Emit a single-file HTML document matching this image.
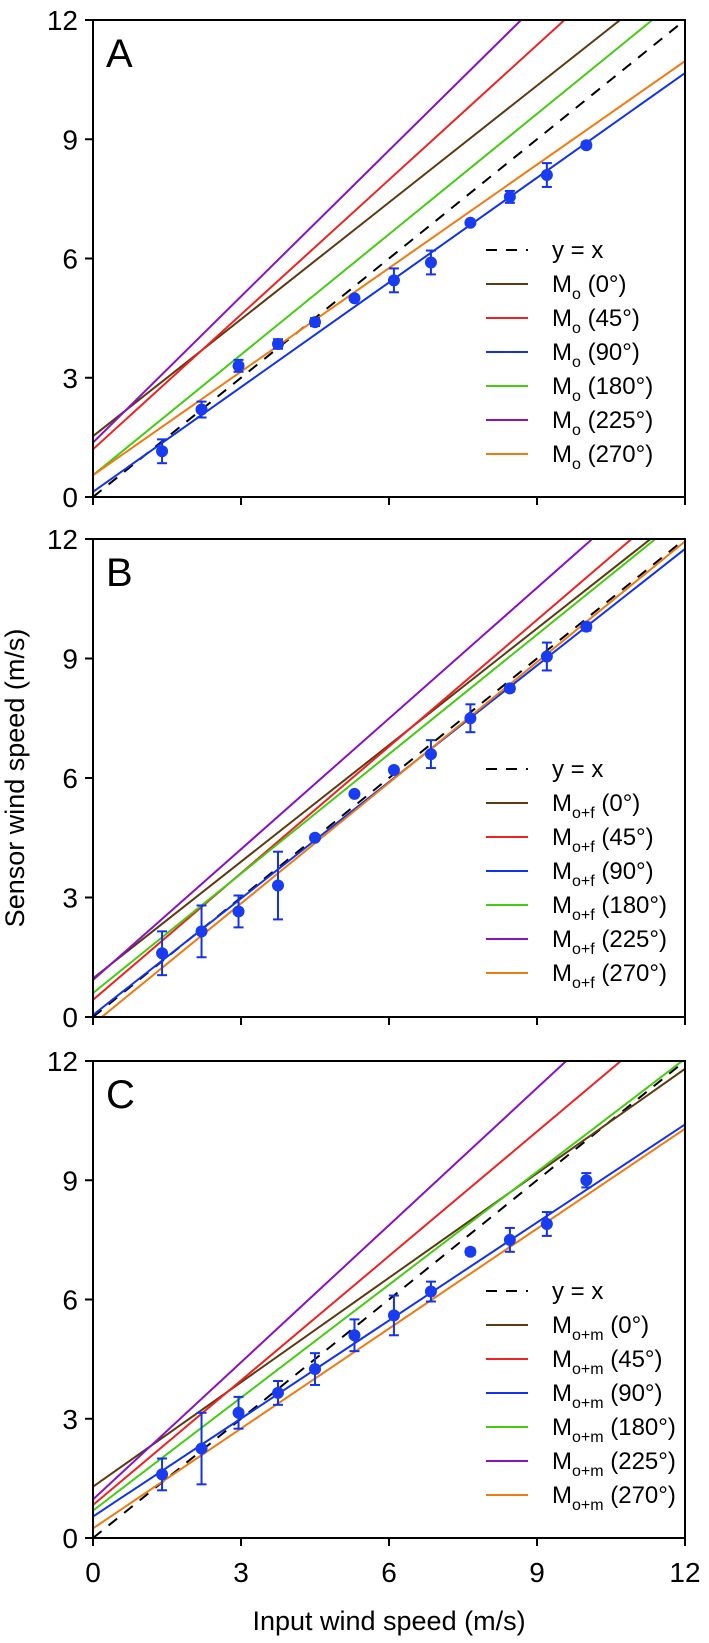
<!DOCTYPE html>
<html><head><meta charset="utf-8">
<style>
html,body{margin:0;padding:0;background:#fff;}
svg{display:block;font-family:"Liberation Sans",Arial,sans-serif;}
</style></head>
<body>
<svg id="chart" width="709" height="1643" viewBox="0 0 709 1643">
<text x="24" y="778" font-size="27" text-anchor="middle" transform="rotate(-90 24 778)">Sensor wind speed (m/s)</text>
<text x="389" y="1630" font-size="27" text-anchor="middle">Input wind speed (m/s)</text>
</svg>
<script>
const panelLabels = ['A','B','C'];
const subscripts = ['o','o+f','o+m'];
const angles = ['0°','45°','90°','180°','225°','270°'];
const seriesColors = ['#5c3a12','#ee2222','#1133ee','#44cc11','#8811c4','#f07a12'];
const intercepts = [
  [1.53,1.20,0.13,0.55,1.37,0.55],
  [0.97,0.43,0.05,0.60,0.93,-0.18],
  [1.29,0.83,0.54,0.69,0.97,0.24]
];
const slopes = [
  [0.98,1.13,0.878,1.01,1.225,0.868],
  [0.976,1.06,0.975,1.0,1.094,1.01],
  [0.876,1.044,0.822,0.947,1.15,0.838]
];
const inputX = [1.4,2.2,2.95,3.75,4.5,5.3,6.1,6.85,7.65,8.45,9.2,10.0];
const meansA = [1.15,2.2,3.3,3.85,4.4,5.0,5.45,5.9,6.9,7.55,8.1,8.85];
const errsA = [0.3,0.2,0.15,0.12,0.1,0.05,0.3,0.3,0.05,0.15,0.3,0.08];
const meansB = [1.6,2.15,2.65,3.3,4.5,5.6,6.2,6.6,7.5,8.25,9.05,9.8];
const errsB = [0.55,0.65,0.4,0.85,0.05,0.05,0.05,0.35,0.35,0.08,0.35,0.1];
const meansC = [1.6,2.25,3.15,3.65,4.25,5.1,5.6,6.2,7.2,7.5,7.9,9.0];
const errsC = [0.4,0.9,0.4,0.3,0.4,0.4,0.5,0.25,0.08,0.3,0.3,0.18];
const ticks = [0,3,6,9,12];

const means = [meansA, meansB, meansC];
const errs = [errsA, errsB, errsC];
const svg = document.getElementById('chart');
const NS = 'http://www.w3.org/2000/svg';
const X0 = 93, X1 = 685;
const tops = [20, 539, 1061], bots = [497, 1017, 1538];
function mk(tag, attrs, parent){
  const e = document.createElementNS(NS, tag);
  for (const k in attrs) e.setAttribute(k, attrs[k]);
  (parent || svg).appendChild(e);
  return e;
}
const xs = v => X0 + (X1 - X0) * v / 12;

for (let p = 0; p < 3; p++) {
  const T = tops[p], B = bots[p];
  const ys = v => B - (B - T) * v / 12;
  const g = mk('g', {});
  
  
  const cid = 'clip' + p;
  const cp = mk('clipPath', {id: cid}, g);
  mk('rect', {x: X0, y: T, width: X1 - X0, height: B - T}, cp);
  const plot = mk('g', {'clip-path': 'url(#' + cid + ')'}, g);
  const idl = mk('line', {x1: xs(0), y1: ys(0), x2: xs(12), y2: ys(12), stroke: '#000', 'stroke-width': 2, 'stroke-dasharray': '11,9'}, plot);
  
  
  for (let s = 0; s < 6; s++) {
    const a = intercepts[p][s], b = slopes[p][s];
    const ln = mk('line', {x1: xs(0), y1: ys(a), x2: xs(12), y2: ys(a + b * 12), stroke: seriesColors[s], 'stroke-width': 2}, plot);
    
    
  }
  for (let i = 0; i < inputX.length; i++) {
    const cx = xs(inputX[i]), m = means[p][i], e = errs[p][i];
    const pg = mk('g', {stroke: '#1133ee', 'stroke-width': 2}, g);
    
    
    mk('line', {x1: cx, y1: ys(m - e), x2: cx, y2: ys(m + e)}, pg);
    mk('line', {x1: cx - 5, y1: ys(m - e), x2: cx + 5, y2: ys(m - e)}, pg);
    mk('line', {x1: cx - 5, y1: ys(m + e), x2: cx + 5, y2: ys(m + e)}, pg);
    mk('circle', {cx: cx, cy: ys(m), r: 6, fill: '#1a3cf0', stroke: 'none'}, pg);
  }
  const fr = mk('rect', {x: X0, y: T, width: X1 - X0, height: B - T, fill: 'none', stroke: '#000', 'stroke-width': 2}, g);
  
  
  for (const t of ticks) {
    mk('line', {x1: X0 - 8, y1: ys(t), x2: X0, y2: ys(t), stroke: '#000', 'stroke-width': 2}, g);
    const yl = mk('text', {x: 78, y: ys(t) + 10, 'font-size': 28, 'text-anchor': 'end'}, g);
    yl.textContent = t;
    
    
    mk('line', {x1: xs(t), y1: B, x2: xs(t), y2: B + 8, stroke: '#000', 'stroke-width': 2}, g);
    if (p === 2) {
      const xl = mk('text', {x: xs(t), y: B + 44, 'font-size': 28, 'text-anchor': 'middle'}, g);
      xl.textContent = t;
      
      
    }
  }
  const pl = mk('text', {x: 106, y: T + 47, 'font-size': 40}, g);
  pl.textContent = panelLabels[p];
  
  
  const lg = mk('g', {}, g);
  
  
  const ly0 = T + 230, dy = 34;
  const e0 = mk('g', {}, lg);
  
  
  mk('line', {x1: 486, y1: ly0, x2: 528, y2: ly0, stroke: '#000', 'stroke-width': 2, 'stroke-dasharray': '11,9'}, e0);
  const t0 = mk('text', {x: 552, y: ly0 + 8, 'font-size': 24}, e0);
  t0.textContent = 'y = x';
  for (let s = 0; s < 6; s++) {
    const y = ly0 + dy * (s + 1);
    const en = mk('g', {}, lg);
    
    
    mk('line', {x1: 486, y1: y, x2: 528, y2: y, stroke: seriesColors[s], 'stroke-width': 2}, en);
    const tx = mk('text', {x: 552, y: y + 8, 'font-size': 24}, en);
    const m = mk('tspan', {}, tx); m.textContent = 'M';
    const sb = mk('tspan', {dy: 7, 'font-size': 16}, tx); sb.textContent = subscripts[p];
    const rest = mk('tspan', {dy: -7}, tx); rest.textContent = ' (' + angles[s] + ')';
  }
}
</script>
</body></html>
